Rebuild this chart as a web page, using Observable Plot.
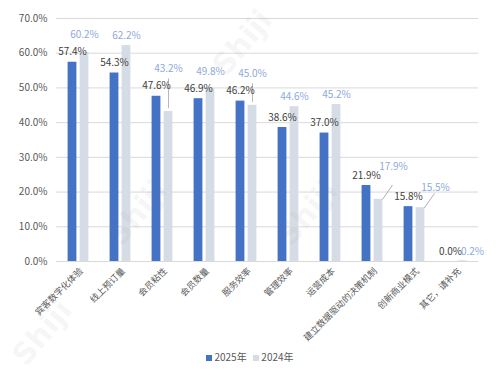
<!DOCTYPE html>
<html><head><meta charset="utf-8">
<script src="https://cdn.jsdelivr.net/npm/d3@7"></script>
<script src="https://cdn.jsdelivr.net/npm/@observablehq/plot@0.6"></script>
<style>
body{margin:0;background:#fff;font-family:"Noto Sans CJK SC","Noto Sans",sans-serif;}
#wrap{position:relative;width:500px;height:375px;overflow:hidden;}
.legend{position:absolute;left:0;top:349px;width:500px;text-align:center;font-size:10px;color:#595959;}
.legend span.sw{display:inline-block;width:6px;height:6px;margin-right:2px;vertical-align:0px;}
.wm{position:absolute;font:bold 30px "DejaVu Sans",sans-serif;color:rgba(120,120,120,0.07);transform:rotate(-50deg);pointer-events:none;}
</style></head>
<body><div id="wrap"></div>
<script>
const categories = ["宾客数字化体验","线上预订量","会员粘性","会员数量","服务效率","管理效率","运营成本","建立数据驱动的决策机制","创新商业模式","其它，请补充"];
const v2025 = [57.4,54.3,47.6,46.9,46.2,38.6,37.0,21.9,15.8,0.0];
const v2024 = [60.2,62.2,43.2,49.8,45.0,44.6,45.2,17.9,15.5,0.2];
const yTicks = [0,10,20,30,40,50,60,70];

// label placement rule (mimics the spreadsheet's collision avoidance)
const data = categories.map((c,i)=>{
  const a = v2025[i], b = v2024[i];
  let lb, mode;
  if (a >= 25) { lb = Math.max(b, a + 5); mode = "above"; }
  else if (b >= 1) { lb = Math.max(b, a + 2.5); mode = "side"; }
  else { lb = a; mode = "tiny"; }
  return {cat:c, a, b, lb, mode};
});
const fmt = v => v.toFixed(1)+"%";
const blue = "#4472C4", grey = "#D6DCE5", labBlue = "#8EA9DB";
const leader = {draw(ctx, l){ ctx.moveTo(0,0); ctx.lineTo(0,-l); }};
const lab24 = (mode, dx) => Plot.text(data.filter(d => d.mode === mode),
  {x: "cat", y: "lb", text: d => fmt(d.b), dx, dy: -10, fill: labBlue, fontSize: 10});

const chart = Plot.plot({
  width: 500, height: 345,
  marginLeft: 56, marginRight: 22, marginTop: 18, marginBottom: 84,
  style: {fontFamily: '"Noto Sans CJK SC","Noto Sans",sans-serif', fontSize: "10px", color: "#595959"},
  x: {domain: categories, padding: 0, label: null, axis: null},
  y: {domain: [0,70], ticks: yTicks, tickFormat: fmt, label: null, tickSize: 0, tickPadding: 9},
  marks: [
    Plot.gridY(yTicks, {stroke: "#D9D9D9", strokeOpacity: 1}),
    Plot.axisX({tickSize: 0, tickRotate: -45, tickPadding: 8, dx: 3, fontSize: 9, fill: "#595959"}),
    Plot.barY(data, {x: "cat", y: "a", fill: blue, insetLeft: 10.6, insetRight: 22.6}),
    Plot.barY(data, {x: "cat", y: "b", fill: grey, insetLeft: 22.6, insetRight: 10.6}),
    Plot.ruleY([0], {stroke: "#D9D9D9"}),
    Plot.ruleX(data.filter(d => d.mode === "above" && d.lb - d.b > 3), {x: "cat", y1: "b", y2: "lb", dx: 6, stroke: "#A6A6A6", strokeWidth: 0.8, insetTop: -3}),
    Plot.vector(data.filter(d => d.mode === "side"), {x: "cat", y: "b", dx: 10, length: 17, rotate: 35, anchor: "start", shape: leader, stroke: "#A6A6A6", strokeWidth: 0.8}),
    Plot.text(data, {x: "cat", y: "a", text: d => fmt(d.a), dx: -6, dy: -10, fill: "#404040", fontSize: 10}),
    lab24("above", 6),
    lab24("side", 21),
    lab24("tiny", 16)
  ]
});
const wrap = document.getElementById("wrap");
wrap.appendChild(chart);
const lg = document.createElement("div");
lg.className = "legend";
lg.innerHTML = `<span class="sw" style="background:${blue}"></span>2025年&nbsp;&nbsp;&nbsp;<span class="sw" style="background:${grey}"></span>2024年`;
wrap.appendChild(lg);
[[205,25],[100,195],[270,195],[5,315]].forEach(([l,t])=>{
  const w=document.createElement("div");w.className="wm";w.textContent="Shiji";
  w.style.left=l+"px";w.style.top=t+"px";wrap.appendChild(w);
});
</script></body></html>
